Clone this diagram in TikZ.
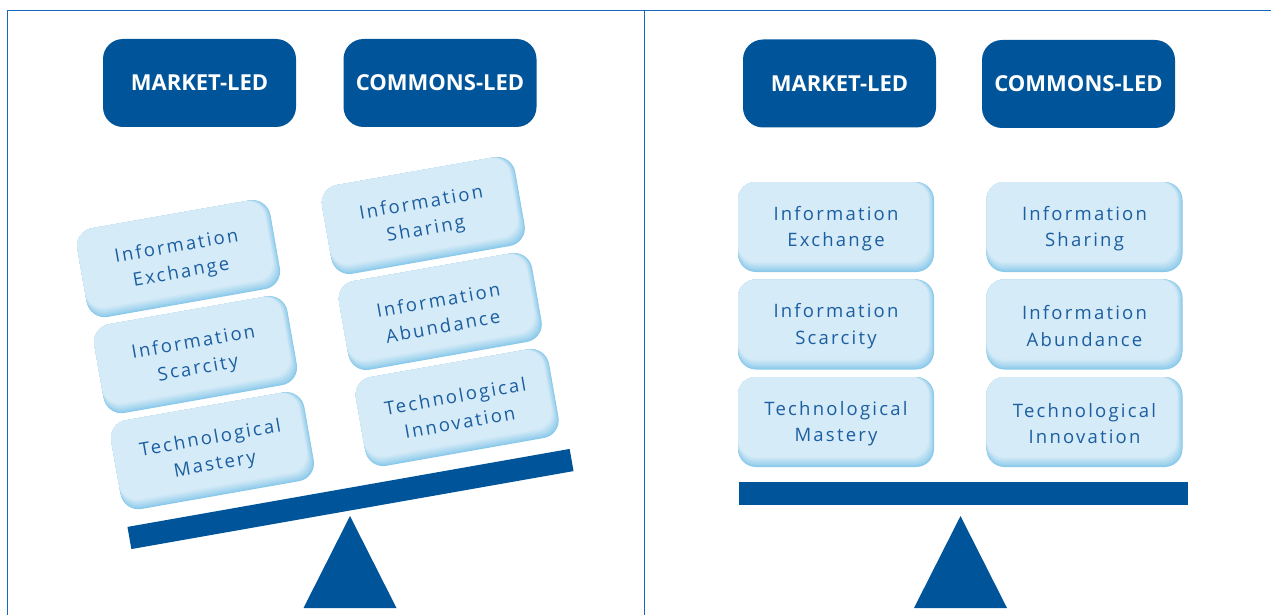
\documentclass[tikz,border=0pt]{standalone}
\usepackage{fontspec}
\setmainfont{Open Sans}
\newfontfamily\trackedsans[LetterSpace=12]{Open Sans}
\usetikzlibrary{positioning}

\definecolor{ledblue}{RGB}{0,85,154}
\definecolor{rulecol}{RGB}{25,104,184}
\definecolor{boxface}{RGB}{213,235,247}
\definecolor{boxedge}{RGB}{135,200,234}
\definecolor{boxtext}{RGB}{28,94,160}

\tikzset{
  rule/.style={rulecol,line width=1.8pt},
  head/.style={fill=ledblue,text=white,rounded corners=20pt,
    minimum width=193pt,minimum height=88pt,inner sep=0pt,
    font=\fontsize{22}{26}\selectfont\bfseries},
  cardtext/.style={text=boxtext,align=center,transform shape,inner sep=0pt,
    font=\trackedsans\fontsize{18.5}{26.5}\selectfont},
}

\begin{document}
\begin{tikzpicture}[x=1pt,y=-1pt]
  \useasboundingbox (0,0) rectangle (1271,615);

  % frame
  \draw[rule] (7.5,615) -- (7.5,10.5) -- (1271,10.5);
  \draw[rule] (644.5,10.5) -- (644.5,615);

  % headings
  \node[head] (mkt-l) at (199.5,83) {MARKET-LED};
  \node[head] (com-l) at (440,83) {COMMONS-LED};
  \node[head] (mkt-r) at (839.5,83.5) {MARKET-LED};
  \node[head] (com-r) at (1078.5,84) {COMMONS-LED};

  % stacks on the beam, tipped on the left, level on the right
  \foreach \side/\px/\py/\ang in {l/350.5/499/10, r/963.5/493.5/0}{
   \begin{scope}[shift={(\px,\py)},rotate=\ang]
    \foreach \cx/\cy/\nm/\txt in {
        -127.5/-266.5/exch/{Information\\Exchange},
        -127.5/-169/scar/{Information\\Scarcity},
        -127.5/-71.5/mast/{Technological\\Mastery},
        121/-266.5/shar/{Information\\Sharing},
        121/-169/abun/{Information\\Abundance},
        121/-71.5/innov/{Technological\\Innovation}}{
      % soft darker rim along the bottom and right
      \foreach \k in {0,...,14}{
        \pgfmathtruncatemacro\p{100*(\k/14)^0.8}
        \fill[boxface!\p!boxedge,rounded corners=18pt]
          (\cx-98,\cy-45) rectangle (\cx+98-0.4*\k,\cy+45-0.7*\k);
      }
      \node[cardtext] (\nm-\side) at (\cx,\cy+1.5) {\txt};
    }
    \fill[ledblue] (-224.5,-11.25) rectangle (224.5,11.25);
   \end{scope}
  }

  % pivots
  \fill[ledblue] (350,516) -- (396.5,608) -- (303.5,608) -- cycle;
  \fill[ledblue] (960.5,516) -- (1007,608) -- (914,608) -- cycle;
\end{tikzpicture}
\end{document}
